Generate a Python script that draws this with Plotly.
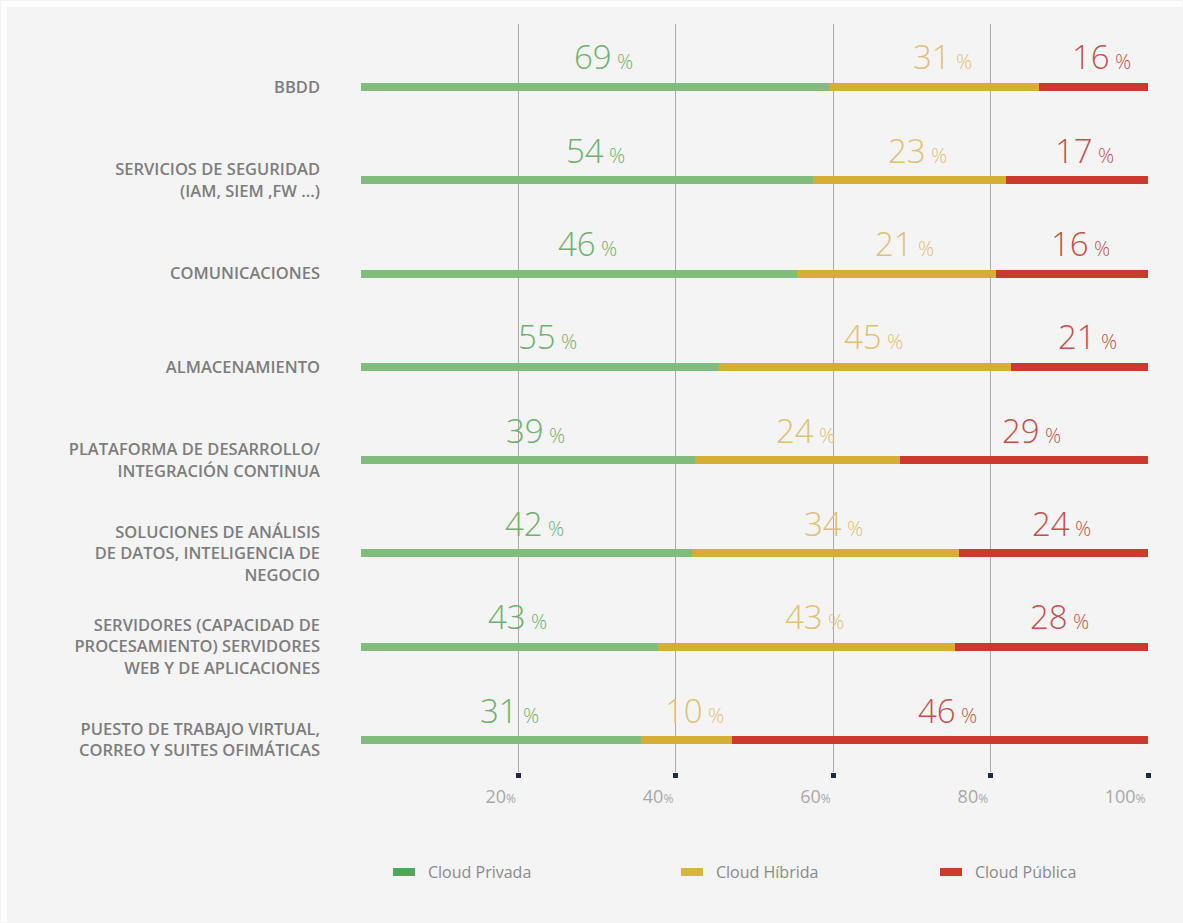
import plotly.graph_objects as go

# ---- data -------------------------------------------------------------
categories = [
    "BBDD",
    "SERVICIOS DE SEGURIDAD<br>(IAM, SIEM ,FW ...)",
    "COMUNICACIONES",
    "ALMACENAMIENTO",
    "PLATAFORMA DE DESARROLLO/<br>INTEGRACIÓN CONTINUA",
    "SOLUCIONES DE ANÁLISIS<br>DE DATOS, INTELIGENCIA DE<br>NEGOCIO",
    "SERVIDORES (CAPACIDAD DE<br>PROCESAMIENTO) SERVIDORES<br>WEB Y DE APLICACIONES",
    "PUESTO DE TRABAJO VIRTUAL,<br>CORREO Y SUITES OFIMÁTICAS",
]
cloud_privada = [69, 54, 46, 55, 39, 42, 43, 31]
cloud_hibrida = [31, 23, 21, 45, 24, 34, 43, 10]
cloud_publica = [16, 17, 16, 21, 29, 24, 28, 46]
series_names = ["Cloud Privada", "Cloud Híbrida", "Cloud Pública"]
x_ticks = [20, 40, 60, 80, 100]
x_tick_labels = [f"{t}<span style='font-size:12px'>%</span>" for t in x_ticks]

# ---- styling ----------------------------------------------------------
W, H = 1183, 923
ML, MR, MT, MB = 361, 35, 24, 151
PW, PH = W - ML - MR, H - MT - MB
FONT = "Open Sans"

bar_colors = ["#80bd7d", "#d6ae33", "#cc3a2d"]
label_colors = ["#6fb06f", "#dfc077", "#c4504a"]
legend_colors = ["#4fa85a", "#d7b43b", "#cc3b2b"]


def px_x(px):
    return (px - ML) / PW


def px_y(py):
    return (H - MB - py) / PH


series = [cloud_privada, cloud_hibrida, cloud_publica]

fig = go.Figure()
for name, vals, col in zip(series_names, series, bar_colors):
    fig.add_trace(go.Bar(
        y=categories, x=vals, orientation="h", name=name,
        marker=dict(color=col, line=dict(width=0)),
        width=0.085, showlegend=False, hoverinfo="x+y+name",
    ))

# value labels centred over each normalised segment
annotations = []
for i, cat in enumerate(categories):
    total = sum(s[i] for s in series)
    start = 0.0
    for s, col in zip(series, label_colors):
        v = s[i]
        mid = (start + v / 2) / total * 100
        start += v
        annotations.append(dict(
            x=mid, y=cat, xref="x", yref="y",
            text=f"{v}<span style='font-size:20px'> %</span>",
            showarrow=False, xanchor="center", yanchor="middle",
            xshift=8, yshift=30,
            font=dict(family=FONT, size=33, color=col, weight=300),
        ))

shapes = [
    # thin white frame along the top and left edges
    dict(type="rect", xref="paper", yref="paper", layer="below",
         x0=px_x(1), x1=px_x(W - 1), y0=px_y(7), y1=px_y(1),
         fillcolor="white", line=dict(width=0)),
    dict(type="rect", xref="paper", yref="paper", layer="below",
         x0=px_x(1), x1=px_x(7), y0=px_y(H - 1), y1=px_y(1),
         fillcolor="white", line=dict(width=0)),
]

# legend drawn as short thick swatches with labels
legend_x = [393, 681, 940]
legend_y = 872
for lx, name, col in zip(legend_x, series_names, legend_colors):
    shapes.append(dict(
        type="rect", xref="paper", yref="paper",
        x0=px_x(lx), x1=px_x(lx + 22), y0=px_y(legend_y + 4), y1=px_y(legend_y - 4),
        fillcolor=col, line=dict(width=0),
    ))
    annotations.append(dict(
        x=px_x(lx + 33), y=px_y(legend_y), xref="paper", yref="paper",
        text=name, showarrow=False, xanchor="left", yanchor="middle",
        font=dict(family=FONT, size=16, color="#8a8a8a"),
    ))

fig.update_layout(
    width=W, height=H, autosize=False,
    margin=dict(l=ML, r=MR, t=MT, b=MB, pad=0),
    paper_bgcolor="#f4f4f4", plot_bgcolor="rgba(0,0,0,0)",
    barmode="stack", barnorm="percent", bargap=0,
    font=dict(family=FONT),
    annotations=annotations, shapes=shapes,
)
fig.update_xaxes(
    range=[0, 100], tickvals=x_ticks, ticktext=x_tick_labels,
    showgrid=True, gridcolor="#a9a9a9", gridwidth=1,
    zeroline=False, showline=False,
    ticks="outside", ticklen=5, tickwidth=5, tickcolor="#1c2b45",
    ticklabelposition="outside left", ticklabelstandoff=8,
    tickfont=dict(family=FONT, size=18, color="#a8a8a8"),
)
fig.update_yaxes(
    type="category", categoryorder="array", categoryarray=categories,
    range=[7.343, -0.675],
    showgrid=False, zeroline=False, showline=False, ticks="",
    ticklabelstandoff=40,
    tickfont=dict(family=FONT, size=16.5, color="#7d7d7d", weight=600),
)

fig.write_html("out.html")
